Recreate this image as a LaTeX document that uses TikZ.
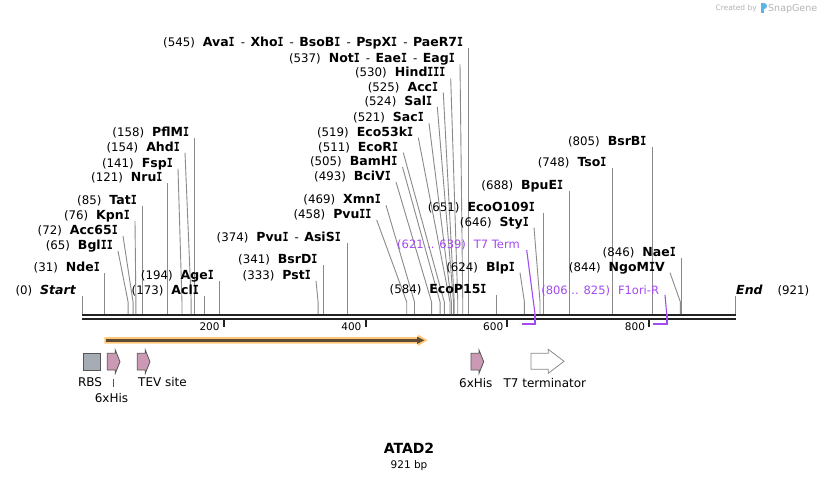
\documentclass[tikz,border=0pt]{standalone}
\usepackage{fontspec}
\setmainfont{DejaVu Sans}
\newfontfamily\vmono{DejaVu Sans Mono}
\usetikzlibrary{calc}
\definecolor{leadc}{HTML}{8A8A8A}
\definecolor{bbone}{HTML}{222222}
\definecolor{purp}{HTML}{A34AF0}
\definecolor{pinkf}{HTML}{CC99B5}
\definecolor{rbsf}{HTML}{A6ACB3}
\definecolor{glyphb}{HTML}{555555}
\definecolor{orlight}{HTML}{FFC978}
\definecolor{ordark}{HTML}{5E4B36}
\definecolor{logog}{HTML}{B4B4B4}
\definecolor{logob}{HTML}{5BB4E5}
\newcommand\numf{\fontsize{11.8}{13}\selectfont}
\newcommand\namef{\fontsize{12.5}{14}\selectfont\bfseries}
\newcommand\vI{\scalebox{0.8}[1]{\vmono\bfseries I}}
\newcommand\nsep{\hspace{6pt}{\mdseries\numf -}\hspace{5.5pt}}
\newcommand\lab[2]{{\numf(#1)}\hspace{8pt}{\namef #2}}
% slanted site: id, content, east x, centre y, position
\newcommand\rsite[5]{%
  \node[lbl, anchor=base east] (#1) at ({#3},{#4+4.5}) {#2};
  \coordinate (#1t) at ({#3+5},{#4+6});
  \coordinate (#1m) at ({82+#5*0.709013},302);
  \coordinate (#1b) at ({82+#5*0.709013},314);
  \draw[leader] (#1t) -- (#1m) -- (#1b);
}
% vertical site: id, content, east x, centre y, position
\newcommand\rsitev[5]{%
  \node[lbl, anchor=base east] (#1) at ({#3},{#4+4.5}) {#2};
  \coordinate (#1t) at ({82+#5*0.709013},{#4+6});
  \coordinate (#1b) at ({82+#5*0.709013},314);
  \draw[leader] (#1t) -- (#1b);
}
\begin{document}
\begin{tikzpicture}[x=1pt,y=-1pt,
  lbl/.style={inner sep=0pt},
  leader/.style={draw=leadc, line width=0.9pt},
  featlbl/.style={inner sep=0pt, font=\fontsize{12}{14}\selectfont, anchor=base},
  ticklbl/.style={inner sep=0pt, font=\fontsize{10.5}{12}\selectfont, anchor=base east},
  tickmark/.style={draw=bbone, line width=2pt},
  bbline/.style={draw=bbone, line width=2.5pt},
  purpline/.style={draw=purp, line width=1.1pt},
  bracket/.style={draw=purp, line width=2pt},
  purplbl/.style={inner sep=0pt, anchor=base east, text=purp, font=\fontsize{11.5}{13}\selectfont},
  glyph/.style={draw=glyphb, line width=0.8pt}]
\useasboundingbox (0,0) rectangle (818,480);
\fill[white] (0,0) rectangle (818,480);

% logo
\node[inner sep=0pt, anchor=base east, text=logog, font=\fontsize{7.5}{9}\selectfont] (logo1) at (757,10) {Created by};
\fill[logob] (761,3) rectangle (764,13);
\fill[logob] (764,3) .. controls (768,3) and (768,9) .. (764,9) -- cycle;
\node[inner sep=0pt, anchor=base west, text=logog, font=\fontsize{9.5}{11}\selectfont] (logo2) at (768,11) {SnapGene};

% backbone
\coordinate (bbL1) at (82,314.8);
\coordinate (bbR1) at (735.7,314.8);
\coordinate (bbL2) at (82,319);
\coordinate (bbR2) at (735.7,319);
\draw[bbline] (bbL1) -- (bbR1);
\draw[bbline] (bbL2) -- (bbR2);

% ticks
\foreach \v in {200,400,600,800}{
  \coordinate (tk\v a) at ({82+\v*0.709013},320);
  \coordinate (tk\v b) at ({82+\v*0.709013},327.3);
  \draw[tickmark] (tk\v a) -- (tk\v b);
  \node[ticklbl] (tl\v) at ({82+\v*0.709013-4},330.5) {\v};
}

% start / end
\node[lbl, anchor=base east] (start) at (76,294.5) {{\numf(0)}\hspace{8pt}{\namef\itshape Start}};
\coordinate (startt) at (82,296);
\coordinate (startb) at (82,314);
\draw[leader] (startt) -- (startb);
\node[lbl, anchor=base west] (endl) at (736,294.5) {{\namef\itshape End}\hspace{15pt}{\numf(921)}};
\coordinate (endt) at (735.5,296);
\coordinate (endb) at (735.5,314);
\draw[leader] (endt) -- (endb);

% sites
\rsitev{nde}{\lab{31}{Nde\vI}}{100}{267}{31}
\rsite{bgl}{\lab{65}{Bgl\vI\vI}}{113}{245}{65}
\rsite{accsix}{\lab{72}{Acc65\vI}}{118}{230}{72}
\rsite{kpn}{\lab{76}{Kpn\vI}}{130}{215}{76}
\rsitev{tat}{\lab{85}{Tat\vI}}{137}{200}{85}
\rsitev{nru}{\lab{121}{Nru\vI}}{162.7}{177}{121}
\rsite{fsp}{\lab{141}{Fsp\vI}}{173}{162.7}{141}
\rsite{ahd}{\lab{154}{Ahd\vI}}{180}{146.7}{154}
\rsitev{pflm}{\lab{158}{PflM\vI}}{189.3}{132.3}{158}
\rsitev{acl}{\lab{173}{Acl\vI}}{199}{290}{173}
\rsitev{age}{\lab{194}{Age\vI}}{214}{275}{194}
\rsite{pst}{\lab{333}{Pst\vI}}{311}{275}{333}
\rsitev{bsrd}{\lab{341}{BsrD\vI}}{317.7}{259.3}{341}
\rsitev{pvu}{\lab{374}{Pvu\vI\nsep AsiS\vI}}{341}{236.7}{374}
\rsite{pvuii}{\lab{458}{Pvu\vI\vI}}{371.7}{214}{458}
\rsite{xmn}{\lab{469}{Xmn\vI}}{381}{199.3}{469}
\rsite{bciv}{\lab{493}{BciV\vI}}{391}{176}{493}
\rsite{bam}{\lab{505}{BamH\vI}}{397.5}{161}{505}
\rsite{ecori}{\lab{511}{EcoR\vI}}{398.3}{146.7}{511}
\rsite{ecofs}{\lab{519}{Eco53k\vI}}{413.3}{131.7}{519}
\rsite{sac}{\lab{521}{Sac\vI}}{424}{117.3}{521}
\rsite{sal}{\lab{524}{Sal\vI}}{432.3}{101}{524}
\rsite{acci}{\lab{525}{Acc\vI}}{438.3}{86.7}{525}
\rsite{hind}{\lab{530}{Hind\vI\vI\vI}}{445.7}{72.3}{530}
\rsite{noti}{\lab{537}{Not\vI\nsep Eae\vI\nsep Eag\vI}}{455}{58.3}{537}
\rsitev{ava}{\lab{545}{Ava\vI\nsep Xho\vI\nsep BsoB\vI\nsep PspX\vI\nsep PaeR7\vI}}{463.3}{42.3}{545}
\rsitev{ecop}{\lab{584}{EcoP15\vI}}{486.7}{289.3}{584}
\rsite{blp}{\lab{624}{Blp\vI}}{515}{266.7}{624}
\rsite{sty}{\lab{646}{Sty\vI}}{529}{221.7}{646}
\rsitev{ecoo}{\lab{651}{EcoO109\vI}}{535}{206.7}{651}
\rsitev{bpue}{\lab{688}{BpuE\vI}}{563.3}{185}{688}
\rsitev{tso}{\lab{748}{Tso\vI}}{606.7}{161.7}{748}
\rsitev{bsrb}{\lab{805}{BsrB\vI}}{646.7}{140.7}{805}
\rsite{ngo}{\lab{844}{NgoM\vI V}}{665}{266.7}{844}
\rsitev{nae}{\lab{846}{Nae\vI}}{676}{251.7}{846}

% primers / purple features
\node[purplbl] (tsev) at (520,248.5) {(621 .. 639)\hspace{8pt}T7 Term};
\coordinate (tsevt) at (526.7,250);
\coordinate (tsevm) at (535,314);
\coordinate (tsevc) at (535,324);
\coordinate (tseve) at (521.5,324);
\draw[purpline] (tsevt) -- (tsevm);
\draw[bracket] (tsevm) -- (tsevc) -- (tseve);

\node[purplbl] (fori) at (659.3,294.2) {(806 .. 825)\hspace{8pt}F1ori-R};
\coordinate (forit) at (665,295);
\coordinate (forim) at (666.7,314);
\coordinate (foric) at (666.7,324);
\coordinate (forie) at (652.5,324);
\draw[purpline] (forit) -- (forim);
\draw[bracket] (forim) -- (foric) -- (forie);

% ORF arrow
\fill[orlight] (104.3,337) -- (418,337) -- (418,334.5) -- (427.5,340.3) -- (418,346.1) -- (418,343.7) -- (104.3,343.7) -- cycle;
\coordinate (orfa) at (105.5,340.3);
\coordinate (orfb) at (418,340.3);
\draw[ordark, line width=2.6pt] (orfa) -- (orfb);
\fill[ordark] (417,336.6) -- (424.2,340.3) -- (417,344) -- cycle;

% features
\draw[glyph, fill=rbsf] (83.3,353.3) rectangle (100.7,370);
\draw[glyph, fill=pinkf] (107.3,353.3) -- (115.3,353.3) -- (115.3,350) -- (120,361.7) -- (115.3,373.3) -- (115.3,370) -- (107.3,370) -- cycle;
\draw[glyph, fill=pinkf] (137.3,353.3) -- (145.3,353.3) -- (145.3,350) -- (150,361.7) -- (145.3,373.3) -- (145.3,370) -- (137.3,370) -- cycle;
\draw[glyph, fill=pinkf] (471,353.3) -- (479,353.3) -- (479,350) -- (483.7,361.7) -- (479,373.3) -- (479,370) -- (471,370) -- cycle;
\draw[glyph, draw=leadc, fill=white] (531,353.3) -- (548.3,353.3) -- (548.3,349.3) -- (564,361.3) -- (548.3,373.3) -- (548.3,369.3) -- (531,369.3) -- cycle;

\node[featlbl] (rbsl) at (90,386.5) {RBS};
\node[featlbl] (tevl) at (162.5,386.5) {TEV site};
\node[featlbl] (hisa) at (111.5,402.5) {6xHis};
\coordinate (hisag) at (113.3,379);
\coordinate (hisac) at (113.3,387.3);
\draw[draw=glyphb, line width=0.8pt] (hisag) -- (hisac);
\node[featlbl] (hisb) at (475.8,387) {6xHis};
\node[featlbl] (tterm) at (544.8,387) {T7 terminator};

% title
\node[inner sep=0pt, anchor=base, font=\fontsize{14}{16}\selectfont\bfseries] (title) at (409,453) {ATAD2};
\node[inner sep=0pt, anchor=base, font=\fontsize{10.5}{12}\selectfont] (bp) at (409,468) {921 bp};
\end{tikzpicture}
\end{document}
